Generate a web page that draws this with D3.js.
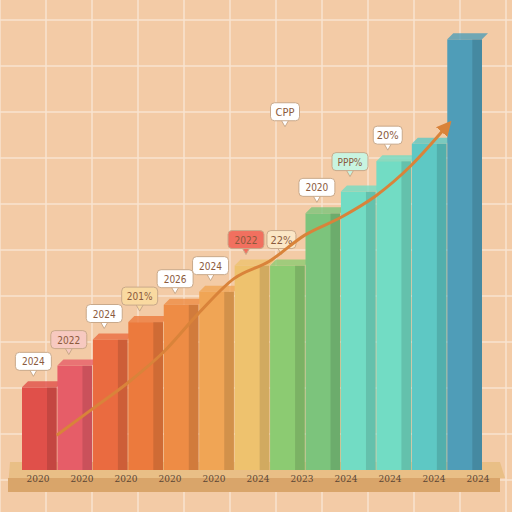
<!DOCTYPE html>
<html><head><meta charset="utf-8">
<script src="https://cdn.jsdelivr.net/npm/d3@7"></script>
<style>body{margin:0}svg{display:block}</style></head>
<body><svg id="c" width="512" height="512"></svg>
<script>
const categories=["b1","b2","b3","b4","b5","b6","b7","b8","b9","b10","b11","b12"];
const values=[19,24,30,34,38,41,47,47,59,64,71,75];
const lastValue=99;
const colors=["#e0504a","#e65d68","#ea6b40","#ec7a3d","#ee8c45","#f0a555","#eec26e","#8ccb72","#7cc47c","#72dcc4","#5ec8c4","#4f9db8"];
const xLabels=["2020","2020","2020","2020","2020","2024","2023","2024","2024","2024","2024"];
const trend=[8,14,20,27,36,44,48,54,58,63,70,79];
const callouts=[{i:0,t:"2024",c:"#fff"},{i:1,t:"2022",c:"#f7c9c0"},{i:2,t:"2024",c:"#fff"},{i:3,t:"201%",c:"#f9d9a0"},{i:4,t:"2026",c:"#fff"},{i:5,t:"2024",c:"#fff"},{i:6,t:"2022",c:"#f1705f"},{i:7,t:"22%",c:"#fbe6c5"},{i:8,t:"2020",c:"#fff"},{i:9,t:"PPP%",c:"#c8f4e1"},{i:10,t:"20%",c:"#fff"},{i:11,t:"CPP",c:"#fff"}];
const svg=d3.select("#c");
svg.append("rect").attr("width",512).attr("height",512).attr("fill","#f3cba6");
const g=svg.append("g");
for(let x=0;x<=512;x+=46)g.append("line").attr("x1",x).attr("x2",x).attr("y1",0).attr("y2",512).attr("stroke","#f9e3cf").attr("stroke-width",1.5);
for(let y=20;y<=512;y+=46)g.append("line").attr("y1",y).attr("y2",y).attr("x1",0).attr("x2",512).attr("stroke","#f9e3cf").attr("stroke-width",1.5);
svg.append("path").attr("d","M10,462 L500,462 L505,478 L8,488 Z").attr("fill","#e9bf86");
svg.append("rect").attr("x",8).attr("y",478).attr("width",492).attr("height",14).attr("fill","#d9a56a");
const y=d3.scaleLinear().domain([0,100]).range([470,35]);
const allVals=values.concat([lastValue]);
const x=d3.scaleBand().domain(d3.range(allVals.length)).range([22,482]).paddingInner(0.02);
const allColors=colors.concat(["#4f9db8"]);
allColors[11]="#5ec8c4"; allColors[10]="#72dcc4";
allVals.forEach((v,i)=>{
 const x0=x(i),w=x.bandwidth(),top=y(v);
 svg.append("rect").attr("x",x0).attr("y",top).attr("width",w).attr("height",470-top).attr("fill",allColors[i]);
 svg.append("rect").attr("x",x0+w*0.72).attr("y",top).attr("width",w*0.28).attr("height",470-top).attr("fill","#000").attr("opacity",0.12);
 svg.append("path").attr("d",`M${x0},${top} L${x0+6},${top-6} L${x0+w+6},${top-6} L${x0+w},${top} Z`).attr("fill",allColors[i]).attr("opacity",0.8);
});
callouts.forEach(c=>{
 const v=values[c.i];
 let cx=x(c.i)+x.bandwidth()/2-6, cy=y(v)-26;
 if(c.t==="CPP"){cx=285;cy=y(v)-32;}
 if(c.t==="PPP%"){cx=350;cy=y(v)-30;}
 const w=c.t.length*7+8;
 svg.append("path").attr("d",`M${cx-4},${cy+8} L${cx},${cy+15} L${cx+4},${cy+8}`).attr("fill",c.c).attr("stroke","#c9a98a");
 svg.append("rect").attr("x",cx-w/2).attr("y",cy-9).attr("width",w).attr("height",18).attr("rx",4).attr("fill",c.c).attr("stroke","#c9a98a");
 svg.append("text").attr("x",cx).attr("y",cy+4).attr("text-anchor","middle").attr("font-family","DejaVu Sans Condensed").attr("font-size",c.t.length>3?10:11).attr("fill","#8b5a3c").text(c.t);
});
const line=d3.line().x((d,i)=>x(i)+x.bandwidth()).y(d=>y(d)).curve(d3.curveMonotoneX);
svg.append("defs").append("marker").attr("id","a").attr("viewBox","0 0 10 10").attr("refX",5).attr("refY",5).attr("markerWidth",5).attr("markerHeight",5).attr("orient","auto").append("path").attr("d","M0,0 L10,5 L0,10 Z").attr("fill","#d9833a");
svg.append("path").datum(trend).attr("d",line).attr("fill","none").attr("stroke","#d9833a").attr("stroke-width",3).attr("marker-end","url(#a)");
xLabels.forEach((t,i)=>{
 svg.append("text").attr("x",38+i*44).attr("y",482).attr("text-anchor","middle").attr("font-family","DejaVu Serif Condensed").attr("font-size",10).attr("fill","#5a4636").text(t);
});
</script></body></html>
